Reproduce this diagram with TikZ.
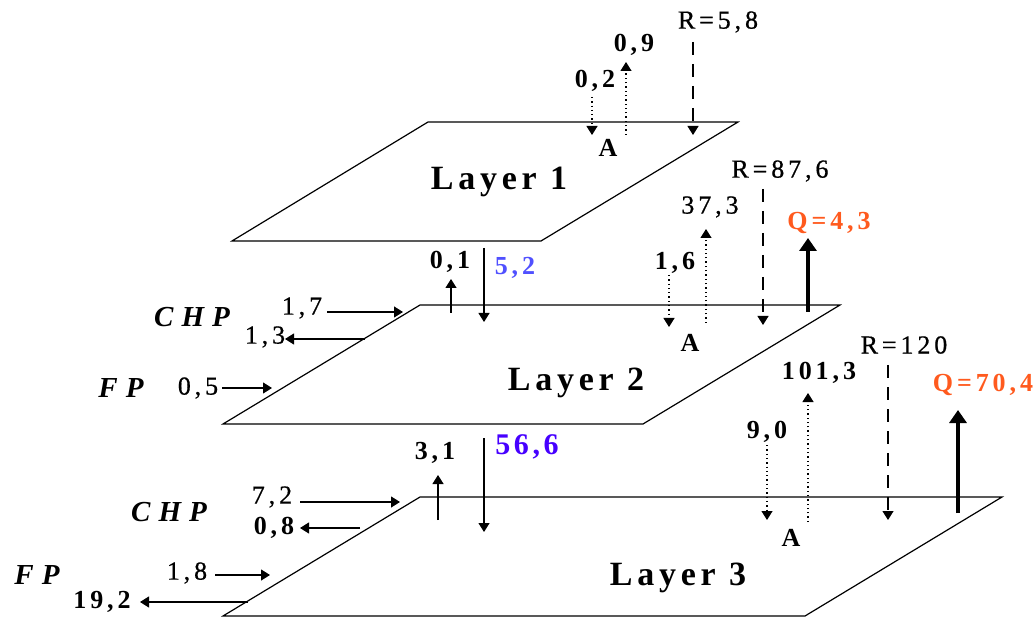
\documentclass[tikz,border=0pt]{standalone}
\usepackage{fontspec}
\setmainfont{Liberation Serif}
\usetikzlibrary{arrows.meta}

\definecolor{qorange}{RGB}{255,90,30}
\definecolor{flowblue}{RGB}{80,80,255}
\definecolor{deepblue}{RGB}{70,0,255}
\newcommand{\numfont}{\fontsize{26}{30}\selectfont\addfontfeatures{LetterSpace=15}}

\begin{document}
\begin{tikzpicture}[x=1pt, y=-1pt, >={Triangle[width=11pt,length=9pt]},
    plane/.style={draw, line width=1.2pt},
    lbl/.style={inner sep=0pt, font=\numfont\addfontfeatures{FakeBold=0.6}},
    blbl/.style={inner sep=0pt, font=\numfont\bfseries},
    title/.style={inner sep=0pt, font=\fontsize{34}{38}\selectfont\bfseries\addfontfeatures{LetterSpace=14}},
    source/.style={inner sep=0pt, font=\fontsize{29}{32}\selectfont\bfseries\itshape\addfontfeatures{LetterSpace=28}},
    flow/.style={->, line width=1.2pt},
    dotflow/.style={flow, dash pattern=on 1.3pt off 3pt},
    dashflow/.style={flow, dash pattern=on 13pt off 9pt},
    heat/.style={-{Triangle[width=17pt,length=13pt]}, line width=4pt}]
    \useasboundingbox (0,0) rectangle (1033,617);

    % layers
    \draw[plane] (428,122) -- (738,122) -- (541,241) -- (232,241) -- cycle;
    \draw[plane] (420,305) -- (840,305) -- (643,424) -- (223,424) -- cycle;
    \draw[plane] (420,497) -- (1002,497) -- (805,616) -- (223,616) -- cycle;
    \node[title] (lay1) at (499,182) {Layer 1};
    \node[title] (lay2) at (576,383) {Layer 2};
    \node[title] (lay3) at (678,578) {Layer 3};

    % layer 1
    \node[lbl] (r1) at (718,22) {R=5,8};
    \node[blbl] (out1) at (595,81) {0,2};
    \node[blbl] (in1) at (634,45) {0,9};
    \node[blbl] (a1) at (608,148) {A};
    \coordinate (r1s) at (693,42);  \coordinate (r1e) at (693,135);
    \coordinate (o1s) at (592,97);  \coordinate (o1e) at (592,135);
    \coordinate (i1s) at (626,135); \coordinate (i1e) at (626,62);
    \draw[dashflow] (r1s) -- (r1e);
    \draw[dotflow] (o1s) -- (o1e);
    \draw[dotflow] (i1s) -- (i1e);

    % layer 2
    \node[blbl, text=flowblue] (d12) at (515,268) {5,2};
    \node[blbl] (u12) at (450,262) {0,1};
    \node[blbl] (out2) at (675,263) {1,6};
    \node[lbl] (in2) at (710,207) {37,3};
    \node[lbl] (r2) at (780,171) {R=87,6};
    \node[blbl, text=qorange] (q2) at (829,223) {Q=4,3};
    \node[blbl] (a2) at (690,343) {A};
    \node[source] (chp2) at (192,317) {CHP};
    \node[source] (fp2) at (121,388) {FP};
    \node[lbl] (chpin2) at (302,308) {1,7};
    \node[lbl] (chpout2) at (265,337) {1,3};
    \node[lbl] (fpin2) at (198,388) {0,5};
    \coordinate (d12s) at (484,248); \coordinate (d12e) at (484,322);
    \coordinate (u12s) at (451,313); \coordinate (u12e) at (451,279);
    \coordinate (o2s) at (669,275);  \coordinate (o2e) at (669,327);
    \coordinate (i2s) at (706,323);  \coordinate (i2e) at (706,229);
    \coordinate (r2s) at (763,189);  \coordinate (r2e) at (763,325);
    \coordinate (q2s) at (808,312);  \coordinate (q2e) at (808,238);
    \coordinate (ci2s) at (327,312); \coordinate (ci2e) at (403,312);
    \coordinate (co2s) at (365,339); \coordinate (co2e) at (285,339);
    \coordinate (fi2s) at (222,388); \coordinate (fi2e) at (272,388);
    \draw[flow] (d12s) -- (d12e);
    \draw[flow] (u12s) -- (u12e);
    \draw[dotflow] (o2s) -- (o2e);
    \draw[dotflow] (i2s) -- (i2e);
    \draw[dashflow] (r2s) -- (r2e);
    \draw[heat] (q2s) -- (q2e);
    \draw[flow] (ci2s) -- (ci2e);
    \draw[flow] (co2s) -- (co2e);
    \draw[flow] (fi2s) -- (fi2e);

    % layer 3
    \node[blbl, text=deepblue, font=\fontsize{30}{34}\selectfont\bfseries\addfontfeatures{LetterSpace=12}] (d23) at (527,447) {56,6};
    \node[blbl] (u23) at (435,453) {3,1};
    \node[source] (chp3) at (169,512) {CHP};
    \node[source] (fp3) at (37,575) {FP};
    \node[lbl] (chpin3) at (272,497) {7,2};
    \node[blbl] (chpout3) at (274,528) {0,8};
    \node[lbl] (fpin3) at (187,573) {1,8};
    \node[blbl] (fpout3) at (102,602) {19,2};
    \node[lbl] (r3) at (904,345) {R=120};
    \node[blbl] (in3) at (819,373) {101,3};
    \node[blbl] (out3) at (767,432) {9,0};
    \node[blbl, text=qorange] (q3) at (983,385) {Q=70,4};
    \node[blbl] (a3) at (791,538) {A};
    \coordinate (d23s) at (484,438); \coordinate (d23e) at (484,532);
    \coordinate (u23s) at (438,520); \coordinate (u23e) at (438,475);
    \coordinate (ci3s) at (300,502); \coordinate (ci3e) at (400,502);
    \coordinate (co3s) at (360,528); \coordinate (co3e) at (300,528);
    \coordinate (fi3s) at (215,575); \coordinate (fi3e) at (270,575);
    \coordinate (fo3s) at (248,602); \coordinate (fo3e) at (140,602);
    \coordinate (r3s) at (888,365);  \coordinate (r3e) at (888,520);
    \coordinate (i3s) at (808,522);  \coordinate (i3e) at (808,393);
    \coordinate (o3s) at (767,445);  \coordinate (o3e) at (767,520);
    \coordinate (q3s) at (958,513);  \coordinate (q3e) at (958,410);
    \draw[flow] (d23s) -- (d23e);
    \draw[flow] (u23s) -- (u23e);
    \draw[flow] (ci3s) -- (ci3e);
    \draw[flow] (co3s) -- (co3e);
    \draw[flow] (fi3s) -- (fi3e);
    \draw[flow] (fo3s) -- (fo3e);
    \draw[dashflow] (r3s) -- (r3e);
    \draw[dotflow] (i3s) -- (i3e);
    \draw[dotflow] (o3s) -- (o3e);
    \draw[heat] (q3s) -- (q3e);
\end{tikzpicture}
\end{document}
